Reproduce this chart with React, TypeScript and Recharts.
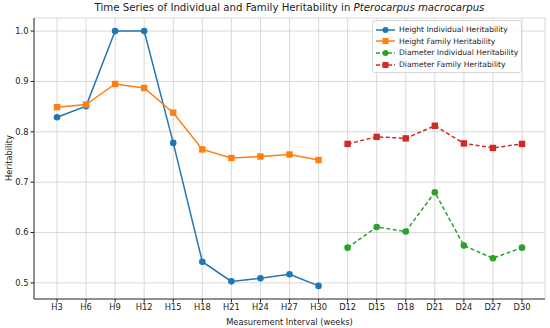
import React from "react";
import {
  LineChart,
  Line,
  XAxis,
  YAxis,
  CartesianGrid,
} from "recharts";

const heightIntervals = ["H3", "H6", "H9", "H12", "H15", "H18", "H21", "H24", "H27", "H30"];
const diameterIntervals = ["D12", "D15", "D18", "D21", "D24", "D27", "D30"];

const heightIndividual = [0.829, 0.851, 1.0, 1.0, 0.778, 0.542, 0.503, 0.509, 0.517, 0.494];
const heightFamily = [0.849, 0.854, 0.895, 0.887, 0.838, 0.765, 0.748, 0.751, 0.755, 0.744];
const diameterIndividual = [0.570, 0.611, 0.602, 0.680, 0.574, 0.549, 0.570];
const diameterFamily = [0.776, 0.790, 0.787, 0.812, 0.777, 0.768, 0.776];

const yTicks = [0.5, 0.6, 0.7, 0.8, 0.9, 1.0];

const series = [
  { key: "hInd", name: "Height Individual Heritability", color: "#1f77b4", shape: "circle", dashed: false },
  { key: "hFam", name: "Height Family Heritability", color: "#ff7f0e", shape: "square", dashed: false },
  { key: "dInd", name: "Diameter Individual Heritability", color: "#2ca02c", shape: "circle", dashed: true },
  { key: "dFam", name: "Diameter Family Heritability", color: "#d62728", shape: "square", dashed: true },
];

// height rows first, then diameter rows; the other pair stays empty
const data = [
  ...heightIntervals.map((label, i) => ({
    label,
    hInd: heightIndividual[i],
    hFam: heightFamily[i],
    dInd: null,
    dFam: null,
  })),
  ...diameterIntervals.map((label, i) => ({
    label,
    hInd: null,
    hFam: null,
    dInd: diameterIndividual[i],
    dFam: diameterFamily[i],
  })),
];

const FONT = "'DejaVu Sans', sans-serif";

function makeDot(shape: string, color: string) {
  return (props: any) => {
    const { cx, cy, index, value } = props;
    if (value == null || cx == null || cy == null) return <g key={index} />;
    if (shape === "square") {
      return <rect key={index} x={cx - 3.2} y={cy - 3.2} width={6.4} height={6.4} fill={color} />;
    }
    return <circle key={index} cx={cx} cy={cy} r={3.3} fill={color} />;
  };
}

function LegendBox() {
  return (
    <div
      style={{
        position: "absolute",
        left: 372,
        top: 20,
        background: "rgba(255,255,255,0.85)",
        border: "1px solid #d6d6d6",
        borderRadius: 3,
        padding: "3px 3px 2px 3px",
        fontFamily: FONT,
        fontSize: 7.6,
        color: "#222",
        whiteSpace: "nowrap",
      }}
    >
      {series.map((s) => (
        <div key={s.key} style={{ display: "flex", alignItems: "center", height: 11.6 }}>
          <svg width={19} height={8} style={{ marginRight: 4, flexShrink: 0 }}>
            <line
              x1={0}
              y1={4}
              x2={19}
              y2={4}
              stroke={s.color}
              strokeWidth={1.5}
              strokeDasharray={s.dashed ? "4 2" : undefined}
            />
            {s.shape === "square" ? (
              <rect x={6.5} y={1} width={6} height={6} fill={s.color} />
            ) : (
              <circle cx={9.5} cy={4} r={3} fill={s.color} />
            )}
          </svg>
          <span>{s.name}</span>
        </div>
      ))}
    </div>
  );
}

export default function App() {
  return (
    <div style={{ position: "absolute", left: 0, top: 0, width: 550, height: 328, background: "#fff" }}>
      <LineChart
        width={550}
        height={328}
        data={data}
        margin={{ top: 18, right: 5, left: 0, bottom: 0 }}
        style={{ fontFamily: FONT }}
      >
        <CartesianGrid stroke="#cfcfcf" strokeWidth={0.8} />
        <XAxis
          dataKey="label"
          padding={{ left: 23, right: 23 }}
          height={29}
          interval={0}
          tick={{ fontSize: 8.3, fill: "#222" }}
          tickSize={3.5}
          tickLine={{ stroke: "#222" }}
          axisLine={{ stroke: "#222", strokeWidth: 0.9 }}
          label={{
            value: "Measurement Interval (weeks)",
            position: "insideBottom",
            offset: 3,
            style: { fontSize: 8.3, fill: "#222" },
          }}
        />
        <XAxis
          xAxisId="top"
          orientation="top"
          dataKey="label"
          height={0}
          tick={false}
          tickLine={false}
          axisLine={{ stroke: "#222", strokeWidth: 0.9 }}
        />
        <YAxis
          domain={[0.468, 1.026]}
          ticks={yTicks}
          width={34}
          tick={{ fontSize: 8.3, fill: "#222" }}
          tickSize={3.5}
          tickLine={{ stroke: "#222" }}
          axisLine={{ stroke: "#222", strokeWidth: 0.9 }}
          tickFormatter={(v: number) => v.toFixed(1)}
          allowDataOverflow
        />
        <YAxis
          yAxisId="right"
          orientation="right"
          width={0}
          tick={false}
          tickLine={false}
          axisLine={{ stroke: "#222", strokeWidth: 0.9 }}
        />
        {series.map((s) => (
          <Line
            key={s.key}
            dataKey={s.key}
            name={s.name}
            type="linear"
            stroke={s.color}
            strokeWidth={1.5}
            strokeDasharray={s.dashed ? "4 2.5" : undefined}
            dot={makeDot(s.shape, s.color)}
            activeDot={false}
            connectNulls={false}
            isAnimationActive={false}
          />
        ))}
      </LineChart>
      <LegendBox />
      <div
        style={{
          position: "absolute",
          left: 34,
          width: 511,
          top: 2,
          textAlign: "center",
          fontFamily: FONT,
          fontSize: 10.2,
          color: "#222",
        }}
      >
        Time Series of Individual and Family Heritability in <i>Pterocarpus macrocarpus</i>
      </div>
      <div
        style={{
          position: "absolute",
          left: 9,
          top: 158,
          transform: "translate(-50%, -50%) rotate(-90deg)",
          fontFamily: FONT,
          fontSize: 8.3,
          color: "#222",
          whiteSpace: "nowrap",
        }}
      >
        Heritability
      </div>
    </div>
  );
}
